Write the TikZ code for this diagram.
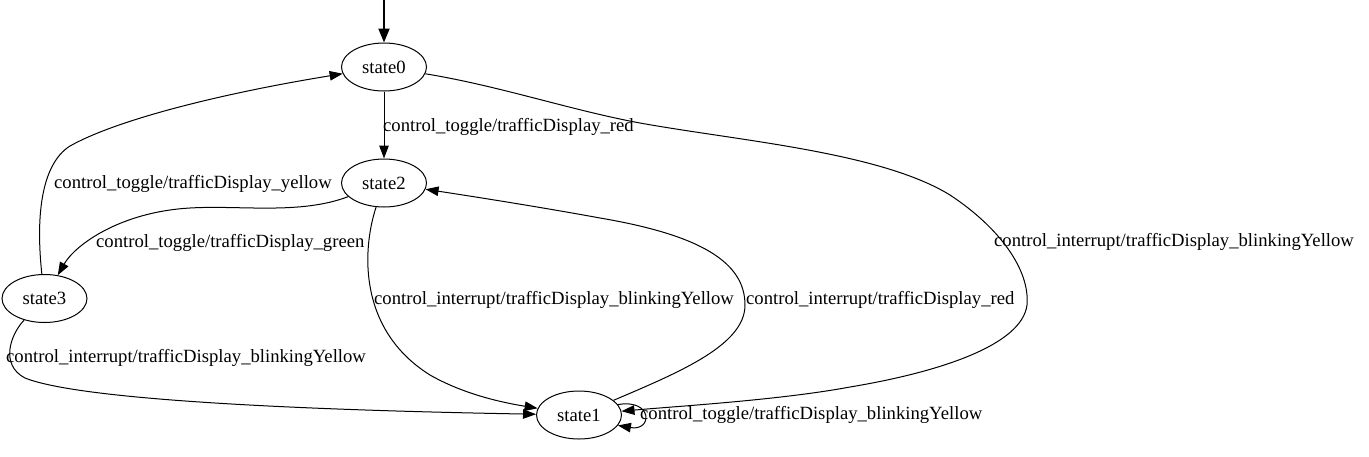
\documentclass[tikz,border=0pt]{standalone}
\usepackage{fontspec}
\setmainfont{Liberation Serif}
\usetikzlibrary{arrows.meta,shapes.geometric}

\begin{document}
\begin{tikzpicture}[
  x=1pt, y=-1pt,
  font=\fontsize{18.67}{22}\selectfont,
  state/.style={draw, ellipse, line width=1pt, minimum width=85pt,
                minimum height=48pt, inner sep=0pt},
  lbl/.style={anchor=west, inner sep=0pt},
  arr/.style={-{Triangle[length=13pt, width=9.5pt]}, line width=1pt},
]
\useasboundingbox (0,0) rectangle (1369,456);
\node[state] (s0) at (384,67) {state0};
\node[state] (s2) at (384,183) {state2};
\node[state] (s3) at (44.5,298.5) {state3};
\node[state] (s1) at (579,415) {state1};
\coordinate (init) at (384,0);
\draw[-{Triangle[length=14pt, width=11pt]}, line width=2pt] (init) -- (s0);
\draw[arr] (s0) -- (s2);
\draw[arr] (s3) .. controls (36,220) and (40,165) .. (70,146)
  .. controls (120,118) and (230,92) .. (s0);
\draw[arr] (s2) .. controls (300,215) and (240,205) .. (190,208)
  .. controls (120,212) and (75,245) .. (s3);
\draw[arr] (s2) .. controls (362,250) and (358,330) .. (430,375)
  .. controls (465,395) and (505,403) .. (s1);
\draw[arr] (s1) .. controls (680,372) and (745,345) .. (745,305)
  .. controls (745,262) and (700,235) .. (600,218)
  .. controls (540,207) and (470,196) .. (s2);
\draw[arr] (s0) .. controls (500,86) and (570,110) .. (640,123)
  .. controls (740,141) and (880,152) .. (950,195)
  .. controls (1000,228) and (1030,270) .. (1027,305)
  .. controls (1022,345) and (940,372) .. (850,387)
  .. controls (780,400) and (680,406) .. (s1);
\draw[arr] (s3) .. controls (10,335) and (0,365) .. (25,378)
  .. controls (80,400) and (300,410) .. (s1);
\draw[arr] (s1.15) .. controls +(35,-6) and +(35,6) .. (s1.-15);
\node[lbl] (l02) at (383,127) {control\_toggle/trafficDisplay\_red};
\node[lbl] (l30) at (54,184) {control\_toggle/trafficDisplay\_yellow};
\node[lbl] (l23) at (96,243) {control\_toggle/trafficDisplay\_green};
\node[lbl] (l21) at (374,300) {control\_interrupt/trafficDisplay\_blinkingYellow};
\node[lbl] (l12) at (746,300) {control\_interrupt/trafficDisplay\_red};
\node[lbl] (l01) at (994,242) {control\_interrupt/trafficDisplay\_blinkingYellow};
\node[lbl] (l31) at (6,358) {control\_interrupt/trafficDisplay\_blinkingYellow};
\node[lbl] (l11) at (640,415) {control\_toggle/trafficDisplay\_blinkingYellow};
\end{tikzpicture}
\end{document}
